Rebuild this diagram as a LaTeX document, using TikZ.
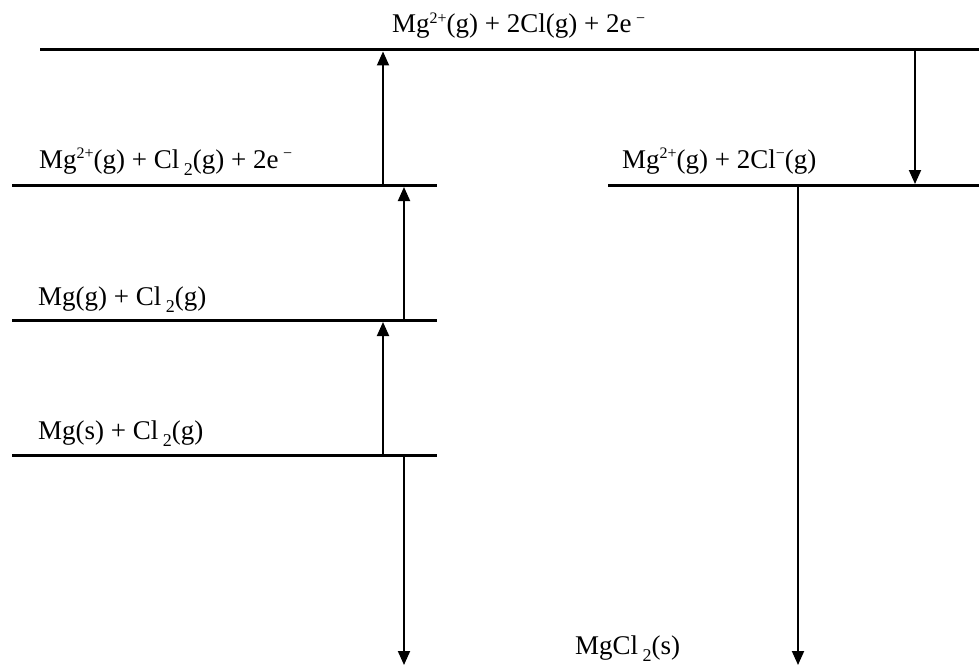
\documentclass[tikz,border=0pt]{standalone}
\usepackage{fontspec}
\setmainfont{Liberation Serif}
\usetikzlibrary{arrows.meta}
\newcommand{\supx}[1]{\raisebox{0.36em}{\fontsize{16}{16}\selectfont #1}}
\newcommand{\subx}[1]{\,\raisebox{-0.28em}{\fontsize{18}{18}\selectfont #1}}
\begin{document}
\begin{tikzpicture}[x=1pt,y=-1pt,
  level/.style={line width=3pt},
  trans/.style={line width=1.9pt,-{Triangle[length=14pt,width=12pt]},shorten >=1.5pt},
  lab/.style={anchor=base west,inner sep=0pt,font=\fontsize{27}{32}\selectfont}]
\useasboundingbox (0,0) rectangle (979,666);
% levels
\draw[level] (40,50) -- (979,50);
\draw[level] (12,185.5) -- (437,185.5);
\draw[level] (608,185.5) -- (979,185.5);
\draw[level] (12,320.5) -- (437,320.5);
\draw[level] (12,455.5) -- (437,455.5);
% labels
\node[lab] (top) at (392,33) {Mg\supx{2+}(g) + 2Cl(g) + 2e\,\supx{−}};
\node[lab] (ion) at (39,168) {Mg\supx{2+}(g) + Cl\subx{2}(g) + 2e\,\supx{−}};
\node[lab] (lat) at (622,168) {Mg\supx{2+}(g) + 2Cl\supx{−}(g)};
\node[lab] (atm) at (38,305) {Mg(g) + Cl\subx{2}(g)};
\node[lab] (std) at (38,439) {Mg(s) + Cl\subx{2}(g)};
\node[lab] (prod) at (575,654) {MgCl\subx{2}(s)};
% arrow end points
\coordinate (a1s) at (383,185.5); \coordinate (a1e) at (383,50);
\coordinate (a2s) at (404,320.5); \coordinate (a2e) at (404,185.5);
\coordinate (a3s) at (383,455.5); \coordinate (a3e) at (383,320.5);
\coordinate (a4s) at (404,455.5); \coordinate (a4e) at (404,665);
\coordinate (a5s) at (915,50);    \coordinate (a5e) at (915,185.5);
\coordinate (a6s) at (798,185.5); \coordinate (a6e) at (798,665);
\draw[trans] (a1s) -- (a1e);
\draw[trans] (a2s) -- (a2e);
\draw[trans] (a3s) -- (a3e);
\draw[trans,shorten >=0pt] (a4s) -- (a4e);
\draw[trans] (a5s) -- (a5e);
\draw[trans,shorten >=0pt] (a6s) -- (a6e);
\end{tikzpicture}
\end{document}
